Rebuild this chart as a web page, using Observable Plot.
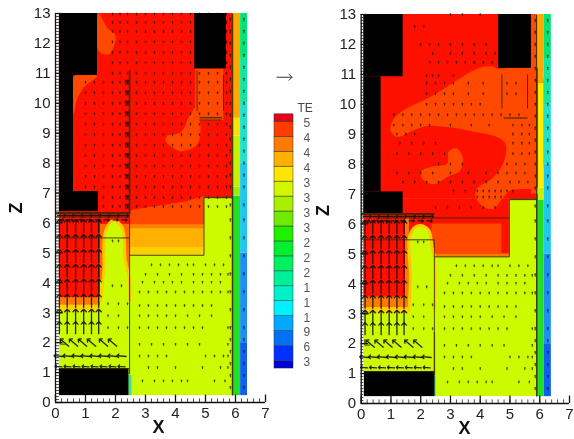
<!DOCTYPE html>
<html><head><meta charset="utf-8">
<script src="https://cdn.jsdelivr.net/npm/d3@7"></script>
<script src="https://cdn.jsdelivr.net/npm/@observablehq/plot@0.6"></script>
<style>
html,body{margin:0;padding:0;background:#fff;width:574px;height:439px;overflow:hidden}
.p{position:absolute;top:0}
.p svg{filter:blur(.55px)}
</style></head><body>
<div class="p" id="left" style="left:0"></div>
<div class="p" id="right" style="left:300px"></div>
<div class="p" id="legend" style="left:270px;top:60px"></div>
<script>
const RED="#fd1000",OR="#ff4800",YG="#ccfb00",BLK="#000";
const xTicks=[0,1,2,3,4,5,6,7];
const zTicks=[0,1,2,3,4,5,6,7,8,9,10,11,12,13];

// legend
const legendColors=["#0000d8","#0030ff","#0070f8","#00a8ff","#00f0ff","#00f0c8","#00f098","#00f060","#00f030","#20f000","#70ea00","#a8f000","#d4f500","#ffe600","#ffb000","#ff7a00","#ff3c00","#e8001a"];
const legendLow=[0,.5,1.5,2.5,3.5,4.5,5.5,6.5,7.5,8.5,9.5,10.5,11.5,12.5,13.5,14.5,15.5,16.5];
const legendHigh=[.5,1.5,2.5,3.5,4.5,5.5,6.5,7.5,8.5,9.5,10.5,11.5,12.5,13.5,14.5,15.5,16.5,17];
const legendLabels=["3","6","9","1","1","1","2","2","2","3","3","3","3","4","4","4","5"];
const legendLabelPos=[.42,1.42,2.42,3.4,4.4,5.4,6.4,7.4,8.4,9.4,10.4,11.4,12.4,13.4,14.4,15.4,16.4];

// left panel shapes: [x1,x2,z1,z2,colour]
const leftRects=[
 [.13,5.9,.23,6.85,YG],[.13,5.9,6.85,13,RED],[.13,4.95,6.3,6.85,RED],
 [.13,1.5,3.05,3.25,"#ffd000"],[.13,1.5,3.25,3.51,"#ff7a00"],[.13,1.5,3.51,6.35,RED],
 [1.5,2.47,4.05,6.3,"#ff6a00"],[1.5,2.47,5.95,6.3,RED],
 [2.47,4.95,4.92,5.18,"#ffd000"],[2.47,4.95,5.18,5.8,"#ffb000"],[2.47,4.95,5.8,5.96,"#ff8000"],
 [4.67,5.61,9.41,11.14,OR],
 [5.9,6.17,.23,6.9,"#22dd22"],[5.9,6.17,6.9,7.2,"#a0ea10"],[5.9,6.17,7.2,8.9,"#c8f000"],[5.9,6.17,8.9,9.5,"#ffe000"],[5.9,6.17,9.5,13,"#ffa800"],
 [6.17,6.4,.23,2,"#1060f0"],[6.17,6.4,2,5,"#2090f0"],[6.17,6.4,5,8,"#20c8f0"],[6.17,6.4,8,10,"#20e0d0"],[6.17,6.4,10,11.5,"#10e8a0"],[6.17,6.4,11.5,13,"#00e676"],
 [2.45,2.55,.23,.9,"#30e0b0"]
];
const leftBlack=[[.13,1.4,10.93,13],[.13,.6,7.05,10.93],[.13,1.43,6.38,7.05],[4.64,5.7,11.15,13],[.13,2.45,.23,1.13]];
const leftBlobs=[
 [[1.44,13],[1.72,12.53],[2,12.25],[1.78,11.64],[1.44,11.75]],
 [[.61,10.88],[1.39,10.92],[.94,10.53],[.7,10.08],[.61,9.63]],
 [[4.67,9.86],[4.83,9.3],[4.72,8.63],[4.17,8.4],[3.67,8.74],[3.72,8.91],[4.17,9.02],[4.44,9.52]]
];
const leftBand=[[2.47,6.4],[2.6,6.45],[3.7,6.62],[4.39,6.73],[4.95,6.9],[4.95,5.96],[2.47,5.96]];
const leftPlume=[[1.5,3.4],[1.61,4.4],[1.67,5.74],[1.94,6.08],[2.22,5.85],[2.33,4.74],[2.47,4.07],[2.47,3.4]];
const leftLines=[
 [0,2.47,6.33,6.33,2],[0,2.47,6.2,6.2,1],[0,2.47,5.5,5.5,1],
 [2.47,2.47,6.3,11.1,1.6],[2.47,2.47,.95,6.3,1],
 [2.47,4.95,4.92,4.92,1],[4.95,4.95,4.92,6.85,1],[4.95,5.9,6.85,6.85,1.4],
 [4.72,4.72,9.75,11.1,1],[5.6,5.6,9.75,10.95,1],[4.8,5.55,9.52,9.52,1.2],[4.8,5.55,9.44,9.44,1],
 [5.9,5.9,.23,13,1.5],[.13,2.45,1.13,1.13,1],[.16,.35,1.95,1.95,1],[.16,.16,1.95,2.15,1],[.05,.25,3,3,1]
];
// right panel shapes
const rightRects=[
 [.09,5.9,.23,6.82,YG],[.09,5.9,6.82,13,RED],[.09,4.98,4.9,6.82,RED],
 [.09,1.6,3,3.2,"#ffd000"],[.09,1.6,3.2,3.55,"#ff7a00"],[.09,1.49,3.55,4.95,RED],[1.49,1.62,3.5,6.2,"#ff7a00"],
 [2.38,4.98,4.9,5,"#ff7a00"],[2.3,2.46,3.1,4.9,YG],
 [2.38,4.73,5,6,OR],[5.72,5.9,7,13,OR],
 [5.96,6.15,.23,6.8,"#22dd22"],[5.96,6.15,6.8,7.2,"#c8f000"],[5.96,6.15,7.2,10.7,"#ffee00"],[5.96,6.15,10.7,13,"#ffa800"],[5.9,5.96,.23,7,"#22dd22"],
 [6.15,6.39,.23,2,"#1060f0"],[6.15,6.39,2,5,"#2090f0"],[6.15,6.39,5,8,"#20c8f0"],[6.15,6.39,8,10,"#20e0d0"],[6.15,6.39,10,11.5,"#10e8a0"],[6.15,6.39,11.5,13,"#00e676"],
 [2.46,2.52,.23,.9,"#30e0b0"]
];
const rightBlack=[[.09,1.41,10.92,13],[.09,.67,7.07,10.92],[.09,1.41,6.34,7.07],[4.62,5.72,11.2,13],[.11,2.48,.23,1.07]];
const rightBlobs=[
 [[3.89,11.19],[3.22,10.8],[2.33,10.25],[1.43,9.8],[1.1,9.52],[.98,9.13],[1.21,8.91],[1.66,9.08],[2.21,9.27],[3,9.22],[3.78,9.08],[4.56,8.91],[4.84,8.69],[4.81,8.13],[4.45,7.57],[3.89,7.18],[3.84,6.9],[4.12,6.57],[4.45,6.51],[4.79,6.9],[5.01,7.12],[5.74,7.18],[5.96,7.24],[5.96,11.19],[4.62,11.19],[4.34,11.27]]
];
const rightInner=[[1.99,7.74],[2.33,7.9],[2.89,8.02],[2.94,8.41],[3.22,8.52],[3.42,8.18],[3.33,7.79],[2.89,7.57],[2.44,7.33],[2.1,7.46]];
const rightPlume=[[1.6,3.11],[1.66,4.22],[1.62,5.56],[1.82,5.9],[1.99,5.95],[2.27,5.79],[2.38,5.23],[2.46,4.89],[2.46,3.1]];
const rightLines=[
 [0,2.46,6.33,6.33,2],[.5,4.98,6.2,6.2,1.2],[0,2.46,5.47,5.47,1],
 [2.46,2.46,2.4,5.47,.9],[2.46,2.46,.95,2.4,1.4],
 [2.46,4.98,4.9,4.9,1],[4.98,4.98,4.9,6.82,1],[4.98,5.9,6.82,6.82,1.4],
 [4.73,4.73,9.86,11,1],[5.59,5.59,9.86,11,1],[4.79,5.59,9.54,9.54,1.2],
 [5.9,5.9,.23,13,1.5],[.1,2.46,1.07,1.07,1],[.12,.3,1.95,1.95,1],[.12,.12,1.95,2.15,1],[.05,.28,3,3,1]
];

// velocity field, rows of [z, xs, arrow length, rotation]
const colXs=[.13,.39,.67,.94,1.2,1.44];
const jetRows=[[5.9,colXs,13,0],[5.4,colXs,13,0],[4.9,colXs,13,0],[4.4,colXs,13,0],[3.9,colXs,13,0],[3.4,colXs,13,0],[2.9,colXs,13,0],[2.5,colXs,12,0],
 [2.0,[.3,.6,.9,1.2,1.6,1.9],11,-50],[1.55,[.1,.4,.7,1,1.3,1.6,1.9,2.2],9,-85],[1.2,[.1,.4,.7,1,1.3,1.6,1.9,2.2],7,-85],
 [6.25,[.2,.5,.8,1.1,1.4,1.7,2,2.3],8,90],[6.1,[.2,.5,.8,1.1,1.4,1.7,2,2.3],5,90]];
const lowRows=[
 [.72,[2.9,3.3,3.6,3.9,4.2,4.4,5.3,5.65]],[1.17,[3.1,3.4,4,4.9,5.5,5.75]],[1.55,[2.8,3.1,3.4,3.7,5,5.3,5.6,5.75]],
 [1.94,[2.8,3.2,3.6,4,4.4,4.8,5.75]],[2.5,[2.8,3.1,3.4,3.7,4,4.3,4.6,4.9,5.75]],[2.9,[2.8,3.1,3.4,3.7,4,4.4,4.8,5.2]],
 [3.24,[2.8,3.1,3.4,3.7,4,4.3,4.6,4.9,5.2]],[3.69,[2.8,3.1,3.4,3.7,4,4.3,4.6,4.9,5.2,5.5,5.75]],[4.02,[2.9,3.3,3.6,3.9,4.2,4.6,4.9,5.2,5.5]],
 [4.28,[3,3.4,3.8,4.2,4.6,4.9,5.2,5.5,5.75]],[4.6,[3.2,3.5,3.8,4.1,4.4,4.6,5,5.3,5.6]]
];
const plumeRows=[[2.5,[1.75,2.1,2.4]],[2.9,[1.75,2.1]],[3.3,[1.75,2.1,2.4]],[3.9,[1.9,2.2]],[5.4,[1.9,2.1]]];
const upXs=[1,1.3,1.6,1.9,2.15,2.4,2.7,3,3.3,3.6,3.9,4.2,4.5,4.8,5.1,5.4,5.7];
const upZs=[6.55,6.85,7.2,7.55,7.9,8.25,8.6,8.95,9.3,9.65,10,10.35,10.7,11,11.35,11.7,12.05,12.4,12.7,12.98];
const rightDotRows=[
 [9.65,[1.1,1.4,1.7,2,2.3,2.6,2.9,3.2,3.5,3.8,4.1,4.4,4.7,5,5.3]],[9.3,[1.1,1.4,1.7,2,2.3,3,3.7,4.3,5.1,5.4,5.65]],[9,[1.2,1.5,1.8,5.1,5.4,5.65]],
 [8.7,[1.3,1.7,2.1,2.5,5.1,5.4,5.65]],[8.35,[1.2,1.6,2,2.4,2.8,5.1,5.4,5.65]],[8,[2.6,3,3.4,4.9,5.2,5.5]],[7.7,[1.2,1.6,2,2.4,3,3.6,4.2,4.6,4.9,5.2,5.5]],
 [7.4,[1.4,1.8,2.2,2.6,3,3.4,3.8,4.2,4.6,5,5.3,5.6]],[7.1,[3.1,3.5,3.9,4.1,4.3,4.5,4.7,4.9,5.1]],[6.9,[3.9,4.1,4.3,4.5,4.7]],[6.55,[2.5,2.9,3.3,3.7,4.1,4.5]],
 [10,[2.2,2.5,2.8,3.1,3.4,3.7,4]],[10.35,[2.2,2.5,2.8,3.1,3.6,4.1,4.9,5.2]],[10.7,[2.2,2.5,2.8,3.1,3.6,4.1,4.9,5.2]],[10.95,[2.2,2.4,2.6,3.1]],[11.4,[2.3,2.6,2.9,3.2,3.5,3.8,4.1,4.4]],
 [11.7,[2.4,3,3.4,3.8,4.2,4.5]],[12,[2,2.3,2.6,3,3.4,3.8,4.2]],[12.6,[1.8,2.1]],[13,[3,3.4,4]]
];
const edgeZs=[.5,.9,1.3,1.7,2.1,2.5,3.1,3.7,4.3,4.9,5.5,6.1,6.6,7.2,7.6,8,8.4,8.8,9.2,9.6,10,10.4,10.8,11.2,11.6,12,12.4,12.8];

function vec(rows){return rows.flatMap(([z,xs,len,rot])=>xs.map(x=>({x,z,len,rot})));}
function grid(xs,zs,len,rot){return zs.flatMap(z=>xs.map(x=>({x,z,len,rot})));}
const dotRows=rows=>vec(rows.map(r=>[r[0],r[1],1.8,0]));

function panel(cfg){
  const dots=[...grid(cfg.edgeX,edgeZs,2.4,0),...dotRows(lowRows),...dotRows(plumeRows),...cfg.dots];
  const poly=(pts,fill,curve="catmull-rom-closed",extra={})=>Plot.line(pts,{x:d=>d[0],y:d=>d[1],fill,stroke:"none",curve,...extra});
  return Plot.plot({
    width:cfg.width,height:439,marginLeft:cfg.ml,marginRight:cfg.mr,marginTop:cfg.mt,marginBottom:cfg.mb,
    x:{domain:[0,7]},y:{domain:[0,13]},color:{type:"identity"},length:{type:"identity"},
    style:{fontFamily:"Liberation Sans, Arial, sans-serif",background:"transparent",color:"#222"},
    marks:[
      Plot.rect([[0,cfg.strip,0,13]],{x1:d=>d[0],x2:d=>d[1],y1:d=>d[2],y2:d=>d[3],fill:"#fff"}),
      Plot.rect(cfg.rects.slice(0,cfg.preCount),{x1:d=>d[0],x2:d=>d[1],y1:d=>d[2],y2:d=>d[3],fill:d=>d[4]}),
      ...cfg.blobs.map(b=>poly(b,OR)),
      ...(cfg.band?[poly(cfg.band,OR,"linear")]:[]),
      Plot.rect(cfg.rects.slice(cfg.preCount),{x1:d=>d[0],x2:d=>d[1],y1:d=>d[2],y2:d=>d[3],fill:d=>d[4]}),
      ...(cfg.innerOr?[poly(cfg.innerOr,OR)]:[]),
      Plot.line(cfg.plume,{x:d=>d[0],y:d=>d[1],fill:YG,stroke:"#ffc800",strokeWidth:3,curve:"catmull-rom"}),
      Plot.vector(dots,{x:"x",y:"z",length:"len",rotate:"rot",anchor:"middle",stroke:"#111",strokeWidth:1.2,strokeOpacity:.7}),
      Plot.vector(vec(jetRows),{x:"x",y:"z",length:"len",rotate:"rot",anchor:"middle",stroke:"#111",strokeWidth:1.3,strokeOpacity:.9}),
      Plot.rect(cfg.black,{x1:d=>d[0],x2:d=>d[1],y1:d=>d[2],y2:d=>d[3],fill:BLK}),
      Plot.link(cfg.lines,{x1:d=>d[0],x2:d=>d[1],y1:d=>d[2],y2:d=>d[3],strokeWidth:d=>d[4],stroke:"#3a2a00",strokeOpacity:.9}),
      Plot.ruleY(d3.range(0,13.01,.1),{x1:0,x2:cfg.strip,stroke:"#222",strokeWidth:.8}),
      Plot.ruleY(zTicks,{x1:0,x2:.25,stroke:"#111",strokeWidth:1.2}),
      Plot.ruleX(d3.range(0,7.01,.2),{y1:0,y2:.12,stroke:"#222",strokeWidth:.8}),
      Plot.ruleX(xTicks,{y1:0,y2:.25,stroke:"#111",strokeWidth:1.3}),
      Plot.ruleY([0],{x1:0,x2:7,stroke:"#111",strokeWidth:1.3}),
      Plot.ruleX([0],{y1:0,y2:13,stroke:"#111",strokeWidth:1.3}),
      Plot.axisX({ticks:xTicks,tickSize:0,tickPadding:5,fontSize:15,label:null,tickFormat:d=>d}),
      Plot.axisY({ticks:zTicks,tickSize:0,tickPadding:5,fontSize:15,label:null,tickFormat:d=>d}),
      Plot.text(["X"],{x:[cfg.xLab],y:[0],dy:cfg.xDy,fontSize:18,fontWeight:"bold",fill:"#111"}),
      Plot.text(["Z"],{x:[0],y:[cfg.zLab],dx:cfg.zDx,rotate:-90,fontSize:18,fontWeight:"bold",fill:"#111"})
    ]
  });
}

document.getElementById("left").append(panel({
  width:285,ml:55,mr:20,mt:13,mb:37,strip:.13,rects:leftRects,preCount:13,blobs:leftBlobs,band:leftBand,
  plume:leftPlume,black:leftBlack,lines:leftLines,edgeX:[5.83,6.28],xLab:3.43,xDy:25,zLab:6.5,zDx:-39,
  dots:[...grid(upXs.filter(x=>x>1.6||x<1),upZs.filter(z=>z>10.9),1.8,0),...grid(upXs,upZs.filter(z=>z<=10.9),1.8,0),...grid([2.35,2.42],upZs.filter(z=>z<11),4.5,0)]
}));
document.getElementById("right").append(panel({
  width:274,ml:60.7,mr:5,mt:14,mb:36,strip:.09,rects:rightRects,preCount:11,blobs:rightBlobs,innerOr:rightInner,
  plume:rightPlume,black:rightBlack,lines:rightLines,edgeX:[5.85,6.27],xLab:3.47,xDy:25,zLab:6.45,zDx:-38,
  dots:dotRows(rightDotRows)
}));
document.getElementById("legend").append(Plot.plot({
  width:50,height:320,margin:0,x:{domain:[0,50],axis:null},y:{domain:[-.8,20.6],axis:null},color:{type:"identity"},length:{type:"identity"},
  style:{fontFamily:"Liberation Sans, Arial, sans-serif",background:"transparent"},
  marks:[
    Plot.rect(legendColors.map((c,i)=>({c,a:legendLow[i],b:legendHigh[i]})),{x1:()=>4,x2:()=>23,y1:"a",y2:"b",fill:"c",stroke:"#333",strokeWidth:.5}),
    Plot.text(legendLabels,{x:()=>33,y:(d,i)=>legendLabelPos[i],textAnchor:"start",fontSize:12,fill:"#555"}),
    Plot.text(["TE"],{x:[27],y:[17.4],textAnchor:"start",fontSize:12,fill:"#444"}),
    Plot.vector([0],{x:()=>14,y:()=>19.48,length:()=>15,rotate:()=>90,anchor:"middle",stroke:"#333",strokeWidth:1})
  ]
}));
</script>
</body></html>
